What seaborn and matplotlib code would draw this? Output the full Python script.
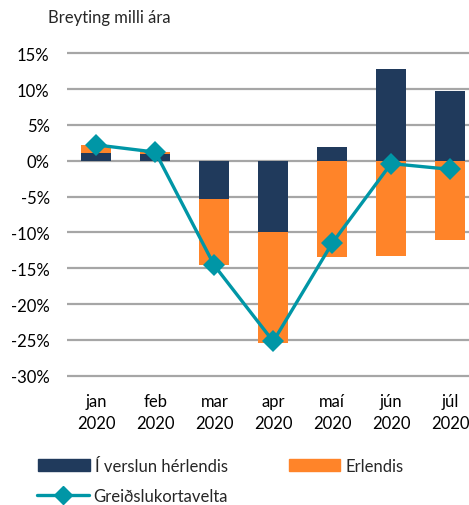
import numpy as np
import pandas as pd
import matplotlib
matplotlib.use('Agg')
import matplotlib.pyplot as plt
from matplotlib.patches import Patch
from matplotlib.lines import Line2D
import seaborn as sns

# ---------------- data ----------------
months = ['jan\n2020', 'feb\n2020', 'mar\n2020', 'apr\n2020', 'maí\n2020', 'jún\n2020', 'júl\n2020']
domestic = np.array([1.1, 1.0, -5.3, -9.9, 1.9, 12.8, 9.7])      # Í verslun hérlendis
abroad = np.array([1.1, 0.2, -9.3, -15.5, -13.4, -13.3, -11.0])  # Erlendis
total = np.array([2.2, 1.2, -14.6, -25.2, -11.5, -0.4, -1.2])    # Greiðslukortavelta
yticks = [15, 10, 5, 0, -5, -10, -15, -20, -25, -30]

NAVY = '#203A5C'
ORANGE = '#FF8429'
TEAL = '#0096A6'
GRID = '#A6A6A6'
FS = 12

sns.set_style('white')
plt.rcParams['font.family'] = ['Lato', 'DejaVu Sans']

fig = plt.figure(figsize=(4.69, 5.06), dpi=100)
ax = fig.add_axes([67 / 469, 1 - 379 / 506, 1 - 67 / 469, (379 - 52) / 506])

# stack: orange sits on top of navy when both have the same sign
same_sign = np.sign(domestic) == np.sign(abroad)
abroad_top = np.where(same_sign, domestic, 0) + abroad

df = pd.DataFrame({'month': months, 'domestic': domestic, 'abroad_top': abroad_top})
sns.barplot(data=df, x='month', y='abroad_top', color=ORANGE, saturation=1,
            width=0.51, linewidth=0, ax=ax, zorder=2)
sns.barplot(data=df, x='month', y='domestic', color=NAVY, saturation=1,
            width=0.51, linewidth=0, ax=ax, zorder=3)
sns.lineplot(x=np.arange(len(months)), y=total, color=TEAL, lw=2.4, marker='D',
             markersize=11.5, markeredgewidth=0, ax=ax, zorder=4)

for t in yticks:
    ax.axhline(t, color=GRID, lw=1.6, zorder=1)

ax.set_ylim(-30.3, 15.3)
ax.set_xlim(-0.5, (469 - 96) / 59)
ax.set_yticks(yticks)
ax.set_yticklabels([f'{t}%' for t in yticks])
ax.set_xlabel('')
ax.set_ylabel('')
ax.tick_params(axis='both', length=0, labelsize=FS, colors='black')
ax.tick_params(axis='y', pad=12.5)
ax.tick_params(axis='x', pad=11)
for lbl in ax.get_xticklabels():
    lbl.set_linespacing(1.45)
sns.despine(ax=ax, left=True, bottom=True)

fig.text(48 / 469, 1 - 18 / 506, 'Breyting milli ára', fontsize=FS, va='center', ha='left')

# legend: bars on one row, line below
leg_kw = dict(frameon=False, fontsize=FS, handlelength=3.1, handleheight=0.7,
              handletextpad=0.3, borderpad=0, borderaxespad=0, loc='center left')
fig.legend([Patch(color=NAVY), Patch(color=ORANGE)], ['Í verslun hérlendis', 'Erlendis'],
           ncol=2, columnspacing=3.65, bbox_to_anchor=(38 / 469, 1 - 467 / 506), **leg_kw)
fig.legend([Line2D([], [], color=TEAL, lw=2.4, marker='D', markersize=9)],
           ['Greiðslukortavelta'], bbox_to_anchor=(37 / 469, 1 - 497 / 506), **leg_kw)

fig.savefig('out.png', dpi=100)
